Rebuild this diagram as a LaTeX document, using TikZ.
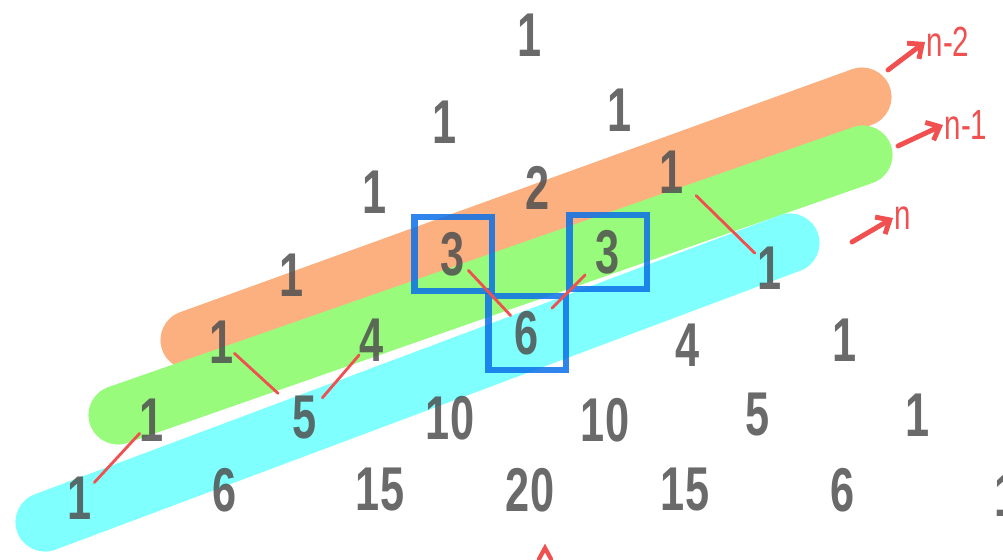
\documentclass[tikz,border=0pt]{standalone}
\usepackage{fontspec}
\newfontfamily\handfont[FakeStretch=0.7]{Liberation Sans}
\usetikzlibrary{arrows.meta}
\definecolor{bandA}{HTML}{FDB07F}
\definecolor{bandB}{HTML}{99FB7B}
\definecolor{bandC}{HTML}{80FFFF}
\definecolor{digit}{HTML}{505050}
\definecolor{boxblue}{HTML}{0A70E8}
\definecolor{redmark}{HTML}{F05050}

\begin{document}
\begin{tikzpicture}[x=0.025cm,y=-0.025cm,
  num/.style={text=digit,text opacity=0.85,font=\handfont\bfseries\fontsize{44}{44}\selectfont,inner sep=0pt},
  picked/.style={num,draw=boxblue,draw opacity=0.85,line width=4.5pt,minimum width=55pt,minimum height=53pt},
  band/.style={line width=42pt,line cap=round},
  link/.style={draw=redmark,line width=2pt,line cap=round},
  rowarrow/.style={draw=redmark,line width=3.5pt,line cap=round,-{Straight Barb[length=8pt,width=14pt]}},
  tag/.style={text=redmark,font=\handfont\fontsize{30}{30}\selectfont,inner sep=1pt}]
\useasboundingbox (0,0) rectangle (1003,559);
% diagonals
\draw[band,bandA] (190,340) -- (862,97);
\draw[band,bandB] (118,415) -- (863,155);
\draw[band,bandC] (45,522) -- (790,243);
% rows of the triangle
\node[num] (r0a) at (530,35) {1};
\node[num] (r1a) at (445,122) {1};
\node[num] (r1b) at (620,110) {1};
\node[num] (r2a) at (375,192) {1};
\node[num] (r2b) at (538,188) {2};
\node[num] (r2c) at (672,172) {1};
\node[num] (r3a) at (292,275) {1};
\node[picked] (r3b) at (453,254) {3};
\node[picked] (r3c) at (608,252) {3};
\node[num] (r3d) at (770,268) {1};
\node[num] (r4a) at (222,342) {1};
\node[num] (r4b) at (372,340) {4};
\node[picked] (r4c) at (527,333) {6};
\node[num] (r4d) at (688,345) {4};
\node[num] (r4e) at (845,340) {1};
\node[num] (r5a) at (152,420) {1};
\node[num] (r5b) at (305,418) {5};
\node[num] (r5c) at (450,418) {10};
\node[num] (r5d) at (605,420) {10};
\node[num] (r5e) at (758,415) {5};
\node[num] (r5f) at (918,415) {1};
\node[num] (r6a) at (80,498) {1};
\node[num] (r6b) at (225,490) {6};
\node[num] (r6c) at (380,490) {15};
\node[num] (r6d) at (530,490) {20};
\node[num] (r6e) at (685,490) {15};
\node[num] (r6f) at (843,490) {6};
\node[num] (r6g) at (1007,495) {1};
% red links
\draw[link,shorten <=16pt,shorten >=17pt] (r3b.center) -- (r4c.center);
\draw[link,shorten <=23pt,shorten >=25pt] (r3c.center) -- (r4c.center);
\draw[link,shorten <=12pt,shorten >=26pt] (r4a.center) -- (r5b.center);
\draw[link,shorten <=14pt,shorten >=19pt] (r4b.center) -- (r5b.center);
\draw[link,shorten <=13pt,shorten >=15pt] (r5a.center) -- (r6a.center);
\draw[link,shorten <=24pt,shorten >=15pt] (r2c.center) -- (r3d.center);
% row labels
\node[tag,anchor=west] (tagA) at (925,42) {n-2};
\node[tag,anchor=west] (tagB) at (943,125) {n-1};
\node[tag,anchor=west] (tagC) at (893,218) {n};
\coordinate (fromA) at (888,70);
\coordinate (fromB) at (898,146);
\coordinate (fromC) at (852,242);
\draw[rowarrow] (fromA) -- (tagA.west);
\draw[rowarrow] (fromB) -- (tagB.west);
\draw[rowarrow] (fromC) -- (tagC.west);
\draw[link,line width=3pt] (539,559) -- (545,548) -- (551,559);
\end{tikzpicture}
\end{document}
